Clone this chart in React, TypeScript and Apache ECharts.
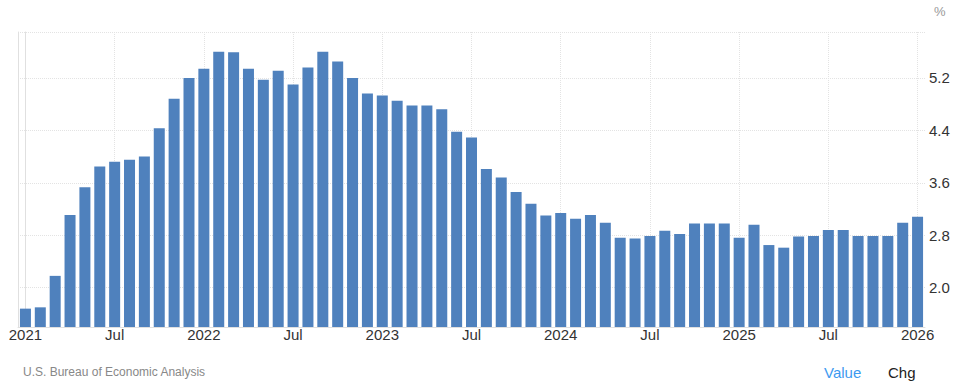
import React, { useEffect, useRef } from 'react';
import * as echarts from 'echarts';

const months = [
  '2021-01', '2021-02', '2021-03', '2021-04', '2021-05', '2021-06', '2021-07', '2021-08', '2021-09', '2021-10', '2021-11', '2021-12',
  '2022-01', '2022-02', '2022-03', '2022-04', '2022-05', '2022-06', '2022-07', '2022-08', '2022-09', '2022-10', '2022-11', '2022-12',
  '2023-01', '2023-02', '2023-03', '2023-04', '2023-05', '2023-06', '2023-07', '2023-08', '2023-09', '2023-10', '2023-11', '2023-12',
  '2024-01', '2024-02', '2024-03', '2024-04', '2024-05', '2024-06', '2024-07', '2024-08', '2024-09', '2024-10', '2024-11', '2024-12',
  '2025-01', '2025-02', '2025-03', '2025-04', '2025-05', '2025-06', '2025-07', '2025-08', '2025-09', '2025-10', '2025-11', '2025-12',
  '2026-01',
];

const values = [
  1.68, 1.70, 2.18, 3.11, 3.53, 3.85, 3.92, 3.95, 4.00, 4.43, 4.88, 5.20,
  5.34, 5.60, 5.59, 5.34, 5.17, 5.31, 5.10, 5.36, 5.60, 5.45, 5.20, 4.96,
  4.93, 4.85, 4.78, 4.78, 4.72, 4.38, 4.29, 3.81, 3.68, 3.46, 3.28, 3.10,
  3.14, 3.05, 3.11, 2.99, 2.76, 2.75, 2.79, 2.87, 2.82, 2.98, 2.98, 2.98,
  2.76, 2.96, 2.65, 2.61, 2.78, 2.79, 2.88, 2.88, 2.79, 2.79, 2.79, 2.99,
  3.08,
];

const yTickLabels = [2.0, 2.8, 3.6, 4.4, 5.2];
const yGridValues = [2.0, 2.8, 3.6, 4.4, 5.2, 5.9];
const yMin = 1.4;
const yMax = 5.9;
const xGridIndexes = [0, 6, 12, 18, 24, 30, 36, 42, 48, 54, 60];

const FONT = "'Liberation Sans', Arial, sans-serif";

export default function App() {
  const ref = useRef<HTMLDivElement>(null);
  useEffect(() => {
    const chart = echarts.init(ref.current!, null, { renderer: 'svg' });
    const gridLine = { show: true, lineStyle: { color: '#e3e3e3', type: 'dotted', width: 1 } };
    chart.setOption({
      animation: false,
      textStyle: { fontFamily: FONT },
      grid: { left: 18, right: 31, top: 32, bottom: 62, containLabel: false, outerBoundsMode: 'none' },
      xAxis: [
        {
          type: 'category',
          data: months,
          boundaryGap: true,
          axisLine: { show: true, lineStyle: { color: '#e0e0e0', width: 1 } },
          axisTick: { show: false },
          splitLine: { show: false },
          axisLabel: {
            interval: 5,
            margin: 0,
            fontSize: 15,
            color: '#333',
            fontFamily: FONT,
            formatter: (v: string) => (v.endsWith('-01') ? v.slice(0, 4) : 'Jul'),
          },
        },
        {
          type: 'value',
          min: -0.5,
          max: months.length - 0.5,
          position: 'bottom',
          axisLine: { show: false },
          axisLabel: { show: false },
          axisTick: { show: false, customValues: xGridIndexes },
          splitLine: gridLine,
        },
      ],
      yAxis: [
        {
          type: 'value',
          position: 'right',
          min: yMin,
          max: yMax,
          axisLine: { show: true, lineStyle: { color: '#e0e0e0', width: 1 } },
          axisTick: { show: false, customValues: yGridValues },
          axisLabel: {
            customValues: yTickLabels,
            margin: 4,
            padding: [0, 0, 5, 0],
            fontSize: 15,
            color: '#333',
            fontFamily: FONT,
            formatter: (v: number) => v.toFixed(1),
          },
          splitLine: gridLine,
        },
        {
          type: 'value',
          position: 'left',
          min: yMin,
          max: yMax,
          axisLine: { show: true, lineStyle: { color: '#e0e0e0', width: 1 } },
          axisTick: { show: false },
          axisLabel: { show: false },
          splitLine: { show: false },
        },
      ],
      series: [
        {
          type: 'bar',
          xAxisIndex: 0,
          yAxisIndex: 0,
          data: values,
          barWidth: 11,
          itemStyle: { color: '#4f81bd' },
        },
      ],
      graphic: [
        { type: 'text', left: 934, top: 5, style: { text: '%', fontSize: 13, fill: '#999', fontFamily: FONT } },
        { type: 'text', left: 23, top: 366, style: { text: 'U.S. Bureau of Economic Analysis', fontSize: 12, fill: '#888', fontFamily: FONT } },
        { type: 'text', left: 824, top: 365, style: { text: 'Value', fontSize: 15, fill: '#3d9af0', fontFamily: FONT } },
        { type: 'text', left: 888, top: 365, style: { text: 'Chg', fontSize: 15, fill: '#222', fontFamily: FONT } },
      ],
    });
    return () => chart.dispose();
  }, []);
  return <div ref={ref} style={{ position: 'absolute', left: 0, top: 0, width: 956, height: 389 }} />;
}
